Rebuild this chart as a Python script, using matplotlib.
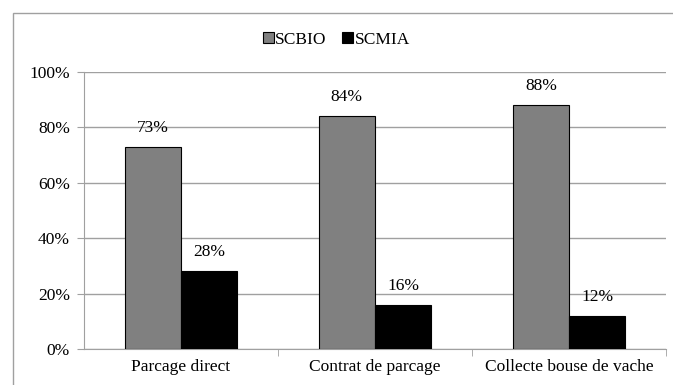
import numpy as np
import matplotlib.pyplot as plt
from matplotlib.patches import Rectangle

categories = ["Parcage direct", "Contrat de parcage", "Collecte bouse de vache"]
scbio = [73, 84, 88]
scmia = [28, 16, 12]

plt.rcParams['font.family'] = ['Liberation Serif', 'DejaVu Serif']
fs = 12.5

fig = plt.figure(figsize=(6.73, 3.85), dpi=100)
ax = fig.add_axes([84/673, 1 - 349/385, (666-84)/673, (349-72)/385])

x = np.arange(len(categories))
w = 0.29
grid_c = '#a0a0a0'

b1 = ax.bar(x - w/2, scbio, w, color='#808080', edgecolor='black', linewidth=0.8, label='SCBIO', zorder=3)
b2 = ax.bar(x + w/2, scmia, w, color='black', edgecolor='black', linewidth=0.8, label='SCMIA', zorder=3)

for bars, vals in ((b1, scbio), (b2, scmia)):
    for b, v in zip(bars, vals):
        ax.annotate(f"{v}%", (b.get_x() + b.get_width()/2, v), xytext=(0, 8),
                    textcoords='offset points', ha='center', va='bottom', fontsize=fs)

ax.set_xlim(-0.5, 2.5)
ax.set_ylim(0, 100)
ax.set_yticks(range(0, 101, 20))
ax.set_yticklabels([f"{t}%" for t in range(0, 101, 20)], fontsize=fs)
ax.yaxis.grid(True, color=grid_c, linewidth=1, zorder=0)

# category labels centred, ticks at the boundaries
ax.set_xticks(x)
ax.set_xticklabels(categories, fontsize=fs)
ax.tick_params(axis='x', length=0, pad=7)
ax.set_xticks([0.5, 1.5, 2.5], minor=True)
ax.tick_params(axis='x', which='minor', length=5, color=grid_c)
ax.tick_params(axis='y', length=5, color=grid_c, pad=5)

for s in ('top', 'right'):
    ax.spines[s].set_visible(False)
for s in ('left', 'bottom'):
    ax.spines[s].set_color(grid_c)

fig.legend(handles=[b1, b2], loc='center', bbox_to_anchor=(0.5, 1 - 40/385),
           ncol=2, frameon=False, fontsize=fs, handlelength=0.6, handleheight=0.6,
           handletextpad=0.1, columnspacing=0.9)

# outer chart frame
fig.patches.append(Rectangle((13/673, -0.05), 1.1, 1 - 13/385 + 0.05,
                             transform=fig.transFigure, fill=False,
                             edgecolor=grid_c, linewidth=1))

fig.savefig('out.png', dpi=100)
